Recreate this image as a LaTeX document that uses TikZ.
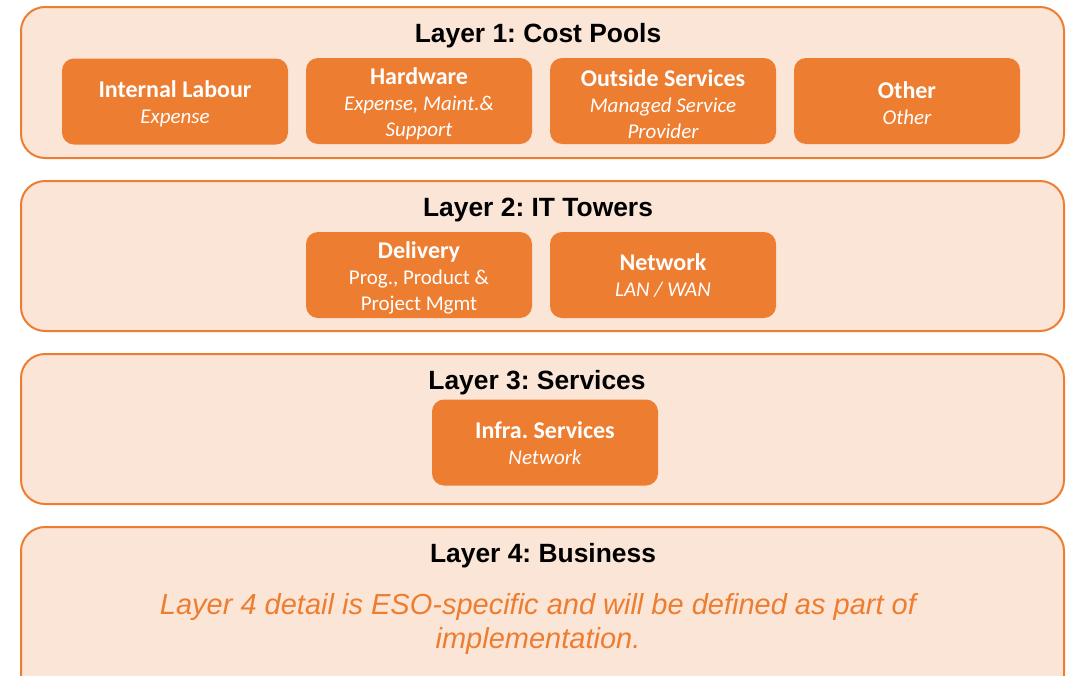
\documentclass[tikz,border=0pt]{standalone}
\usepackage{fontspec}
\setmainfont{Liberation Sans}
\newfontfamily\calibri{Carlito}
\definecolor{accent}{HTML}{ED7D31}
\definecolor{peach}{HTML}{FBE5D6}
\newcommand{\itemhead}[1]{{\calibri\fontsize{24}{26}\selectfont\bfseries #1}}
\newcommand{\itemsub}[1]{{\calibri\fontsize{21}{26}\selectfont\itshape #1}}
\newcommand{\itemplain}[1]{{\calibri\fontsize{21}{26}\selectfont #1}}
\begin{document}
\frenchspacing
\begin{tikzpicture}[x=1pt,y=-1pt,
  layerbox/.style={draw=accent, line width=2pt, fill=peach, rounded corners=24pt},
  layertitle/.style={font=\fontsize{26.4}{30}\selectfont\bfseries, anchor=base},
  itembox/.style={fill=accent, rounded corners=12pt, minimum width=226pt, minimum height=86pt,
    inner sep=0pt},
  itemtext/.style={text=white, align=center, inner sep=0pt, font=\calibri\fontsize{21}{26}\selectfont},
  note/.style={text=accent, align=center, font=\fontsize{29}{34}\selectfont\itshape}]
\useasboundingbox (0,0) rectangle (1074,675);
\clip (0,0) rectangle (1074,675);

% Layer frames
\draw[layerbox] (21,7) rectangle (1064,158);
\draw[layerbox] (21,181) rectangle (1064,331);
\draw[layerbox] (21,354) rectangle (1064,504);
\draw[layerbox] (21,527) rectangle (1064,700);

% Layer titles
\node[layertitle] (t1) at (538,42) {Layer 1: Cost Pools};
\node[layertitle] (t2) at (538,216) {Layer 2: IT Towers};
\node[layertitle] (t3) at (537,389) {Layer 3: Services};
\node[layertitle] (t4) at (543,562) {Layer 4: Business};

% Layer 1: cost pools
\node[itembox] (labour) at (175,101.5) {};
\node[itemtext] (labourtxt) at ([yshift=-2.5pt]labour.center) {\itemhead{Internal Labour}\\\itemsub{Expense}};
\node[itembox] (hw) at (419,101) {};
\node[itemtext] (hwtxt) at ([yshift=-3pt]hw.center) {\itemhead{Hardware}\\\itemsub{Expense, Maint.\&}\\\itemsub{Support}};
\node[itembox] (outside) at (663,101) {};
\node[itemtext] (outsidetxt) at ([yshift=-3pt]outside.center) {\itemhead{Outside Services}\\\itemsub{Managed Service}\\\itemsub{Provider}};
\node[itembox] (other) at (907,101) {};
\node[itemtext] (othertxt) at ([yshift=-2pt]other.center) {\itemhead{Other}\\\itemsub{Other}};

% Layer 2: IT towers
\node[itembox] (delivery) at (419,275) {};
\node[itemtext] (deliverytxt) at ([yshift=-2.5pt]delivery.center) {\itemhead{Delivery}\\\itemplain{Prog., Product \&}\\\itemplain{Project Mgmt}};
\node[itembox] (network) at (663,275) {};
\node[itemtext] (networktxt) at ([yshift=-1pt]network.center) {\itemhead{Network}\\\itemsub{LAN / WAN}};

% Layer 3: services
\node[itembox] (infra) at (545,442.5) {};
\node[itemtext] (infratxt) at ([yshift=-1pt]infra.center) {\itemhead{Infra. Services}\\\itemsub{Network}};

% Layer 4: business
\node[note] (detail) at (538,624) {Layer 4 detail is ESO-specific and will be defined as part of\\implementation.};
\end{tikzpicture}
\end{document}
